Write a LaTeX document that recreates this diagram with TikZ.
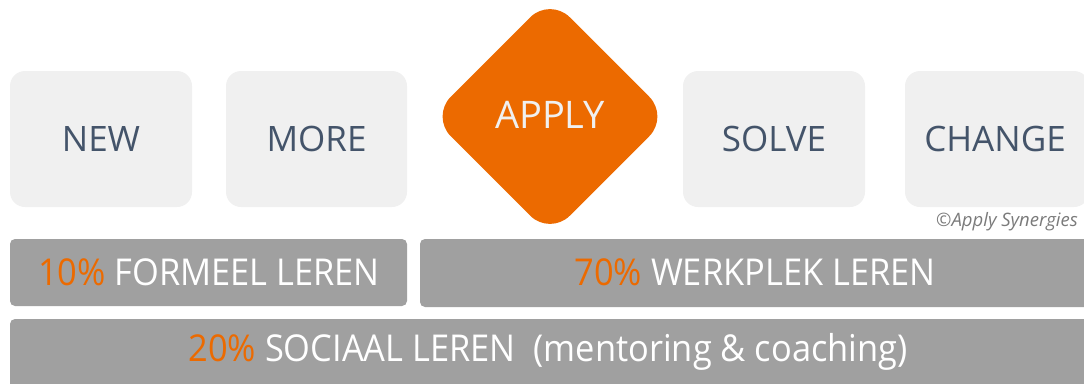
\documentclass[tikz,border=0pt]{standalone}
\usepackage{fontspec}
\setmainfont{Open Sans}
\newfontfamily\narrowfont[FakeStretch=0.93]{Open Sans}
\usetikzlibrary{shapes.geometric}
\definecolor{boxgrey}{HTML}{F0F0F0}
\definecolor{slate}{HTML}{44546A}
\definecolor{barorange}{HTML}{EC6A00}
\definecolor{bargrey}{HTML}{A0A0A0}
\definecolor{notegrey}{HTML}{7A7A7A}
\tikzset{
  stepbox/.style={fill=boxgrey, rounded corners=15pt, anchor=north west,
    minimum width=182pt, minimum height=136pt, inner sep=0pt, outer sep=0pt,
    text=slate, font=\fontsize{35}{40}\selectfont},
  applyshape/.style={diamond, fill=barorange, rounded corners=28pt,
    minimum width=238pt, minimum height=238pt, inner sep=0pt, outer sep=0pt},
  applytext/.style={text=boxgrey, font=\fontsize{38}{42}\selectfont, inner sep=0pt},
  bar/.style={fill=bargrey, rounded corners=5pt, anchor=north west,
    inner sep=0pt, outer sep=0pt},
  barlabel/.style={text=white, inner sep=0pt,
    font=\narrowfont\fontsize{37}{40}\selectfont},
}
\newcommand{\pcttext}[1]{\textcolor{barorange}{#1}}
\begin{document}
\begin{tikzpicture}[x=1pt, y=-1pt]
  \useasboundingbox (0,0) rectangle (1084,383);
  % top row of steps
  \node[stepbox] (new)    at (10,71)  {NEW};
  \node[stepbox, minimum width=181pt] (more)   at (226,71) {MORE};
  \node[stepbox] (solve)  at (683,71) {SOLVE};
  \node[stepbox, minimum width=184pt] (change) at (905,71) {};
  \node[text=slate, font=\fontsize{35}{40}\selectfont, inner sep=0pt] (changelabel) at (995,139) {CHANGE};
  % central diamond
  \node[applyshape] (apply) at (550,116.5) {};
  \node[applytext] (applylabel) at (550,115) {APPLY};
  % copyright note
  \node[anchor=east, text=notegrey, inner sep=0pt,
        font=\itshape\fontsize{18.5}{20}\selectfont] (copy) at (1078,222) {©Apply Synergies};
  % 70-20-10 bars
  \node[bar, minimum width=397pt, minimum height=67pt] (formal) at (10,239) {};
  \node[barlabel] (formallabel) at (209,272) {\pcttext{10\%} FORMEEL LEREN};
  \node[bar, minimum width=674pt, minimum height=68pt] (work) at (420,239) {};
  \node[barlabel] (worklabel) at (755,272) {\pcttext{70\%} WERKPLEK LEREN};
  \node[bar, minimum width=1084pt, minimum height=75pt] (social) at (10,319) {};
  \node[barlabel] (sociallabel) at (548,352) {\pcttext{20\%} SOCIAAL LEREN\ \ (mentoring \& coaching)};
\end{tikzpicture}
\end{document}
